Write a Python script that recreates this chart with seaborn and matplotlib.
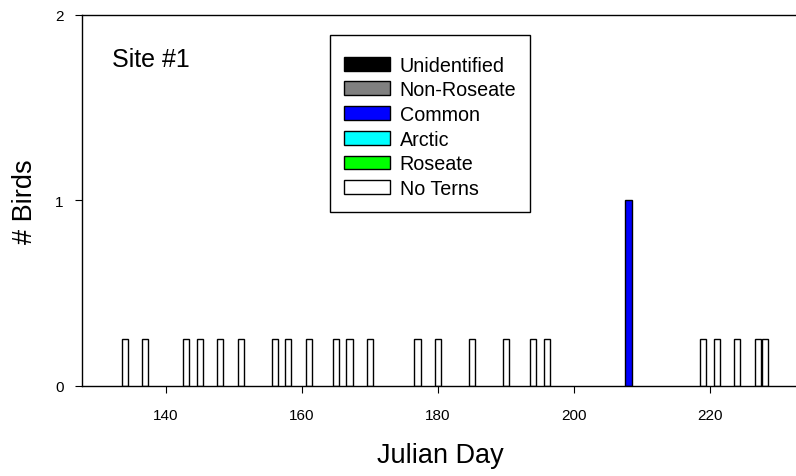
import numpy as np
import pandas as pd
import matplotlib
matplotlib.use("Agg")
import matplotlib.pyplot as plt
import seaborn as sns
from matplotlib.patches import Patch

# survey days with no terns (drawn as short open bars)
no_tern_days = [134, 137, 143, 145, 148, 151, 156, 158, 161, 165, 167, 170,
                177, 180, 185, 190, 194, 196, 219, 221, 224, 227, 228]
no_tern_marker = 0.25

# days with identified birds
common_days = [208]
common_birds = [1]

species = ["Unidentified", "Non-Roseate", "Common", "Arctic", "Roseate", "No Terns"]
colors = ["#000000", "#808080", "#0000ff", "#00ffff", "#00ff00", "#ffffff"]
palette = dict(zip(species, colors))

df = pd.concat([
    pd.DataFrame({"day": no_tern_days, "birds": no_tern_marker, "species": "No Terns"}),
    pd.DataFrame({"day": common_days, "birds": common_birds, "species": "Common"}),
], ignore_index=True)

sns.set_style("ticks")
plt.rcParams["font.family"] = ["Liberation Sans", "DejaVu Sans"]
plt.rcParams.update({"text.color": "black", "axes.labelcolor": "black",
                     "xtick.color": "black", "ytick.color": "black"})

W, H = 796, 477
fig = plt.figure(figsize=(W / 100, H / 100), dpi=100)
ax_left, ax_right, ax_top, ax_bot = 81.7, 800, 16, 386.7
ax = fig.add_axes([ax_left / W, 1 - ax_bot / H, (ax_right - ax_left) / W, (ax_bot - ax_top) / H])

sns.barplot(data=df, x="day", y="birds", hue="species", palette=palette,
            native_scale=True, dodge=False, width=0.9, errorbar=None, saturation=1,
            edgecolor="black", linewidth=1, legend=False, ax=ax)

ax.set_xlim(127.65, 233.2)
ax.set_ylim(0, 2)
ax.set_xticks([140, 160, 180, 200, 220])
ax.set_yticks([0, 1, 2])
ax.tick_params(direction="out", length=5, width=0.8, colors="black", labelsize=11)
ax.tick_params(axis="x", pad=11)
ax.tick_params(axis="y", pad=8)

for side in ["left", "top", "bottom"]:
    ax.spines[side].set_color("black")
    ax.spines[side].set_linewidth(1)
ax.spines["right"].set_visible(False)

ax.set_xlabel("Julian Day", fontsize=19.5)
ax.xaxis.set_label_coords(0.5, (ax_bot - 462.7) / (ax_bot - ax_top))
ax.xaxis.label.set_va("baseline")
ax.set_ylabel("# Birds", fontsize=19.5)
ax.yaxis.set_label_coords((32 - ax_left) / (ax_right - ax_left), 0.5)
ax.yaxis.label.set_va("baseline")

fig.text(111.7 / W, 1 - 66.7 / H, "Site #1", fontsize=18, va="baseline", ha="left")

handles = [Patch(facecolor=palette[s], edgecolor="black", linewidth=1, label=s) for s in species]
leg = fig.legend(handles=handles, loc="upper left", bbox_to_anchor=(330 / W, 1 - 36 / H),
                 borderaxespad=0, fontsize=14.2, frameon=True, fancybox=False,
                 framealpha=1, edgecolor="black", handlelength=2.33, handleheight=0.7,
                 handletextpad=0.5, labelspacing=0.29, borderpad=0.7,
                 title=" ", title_fontsize=0.5)
leg.get_frame().set_linewidth(1)

fig.savefig("out.png", dpi=100)
